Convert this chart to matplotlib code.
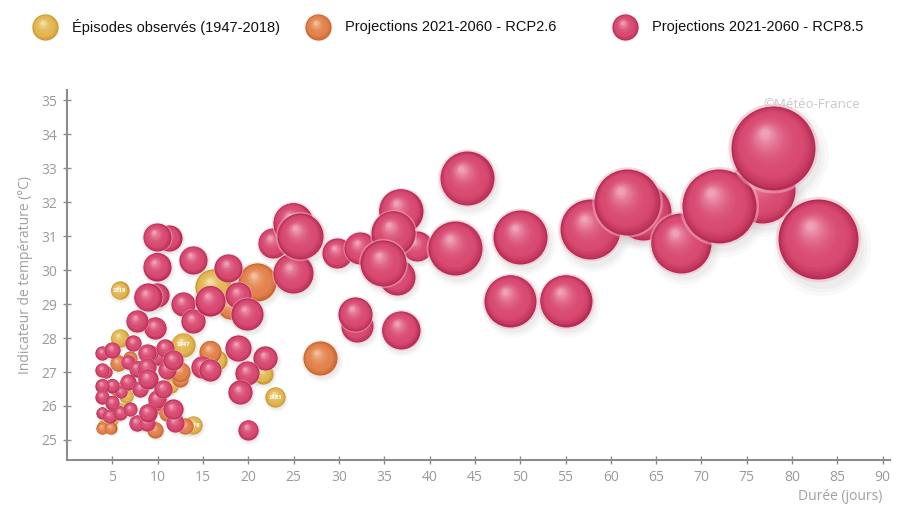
import numpy as np
import matplotlib
matplotlib.use("Agg")
from matplotlib import pyplot as plt
from matplotlib.colors import to_rgb

# --- data: duration (days), temperature indicator (degC), bubble size (severity, px radius)
obs_dur = [5.8, 16.1, 12.8, 23.0, 13.9, 5.8, 4.0, 5.0, 6.5, 11.5, 9.5, 21.6, 16.5, 12.0, 8.0, 6.0, 10.0]
obs_temp = [29.4, 29.5, 27.8, 26.26, 25.44, 28.0, 25.4, 25.6, 26.3, 26.6, 27.5, 26.95, 27.35, 25.6, 25.5, 25.9, 26.0]
obs_size = [9, 18, 12, 10, 9, 9, 6, 6, 7, 7, 7, 10, 10, 7, 6, 6, 7]
obs_label = ["2019", "", "1947", "1983", "1976", "", "", "", "", "", "", "", "", "", "", "", ""]

r26_dur = [21.0, 27.9, 15.8, 12.5, 5.6, 9.7, 13.0, 3.9, 4.8, 11.0, 5.5, 7.0, 18.0, 10.0, 12.5]
r26_temp = [29.65, 27.4, 27.6, 27.0, 27.26, 25.3, 25.4, 25.35, 25.35, 25.8, 26.5, 27.4, 28.9, 27.45, 26.8]
r26_size = [19, 17, 11, 10, 8, 8, 8, 6, 6, 8, 7, 7, 12, 8, 8]

r85_dur = [
    # long events
    76.7, 77.9, 71.9, 82.9, 67.7, 63.6, 61.8, 57.7, 50.0, 55.0, 48.9, 44.1, 42.8,
    38.6, 36.8, 36.0, 36.4, 34.9, 32.3, 29.8, 24.9, 22.7, 24.9, 25.7, 31.8, 32.0, 36.8,
    # medium events
    9.9, 11.2, 9.9, 13.9, 17.8, 15.8, 18.9, 19.9, 8.9, 9.9, 12.8, 13.9, 9.7, 7.7,
    14.9, 15.8, 18.9, 21.9, 19.9, 19.1, 20.0,
    # short events
    3.9, 5.0, 7.3, 3.9, 7.7, 6.7, 8.8, 10.8, 11.7, 11.0, 8.8, 8.9, 6.7, 5.0, 3.9,
    3.9, 5.0, 3.9, 4.7, 5.9, 7.0, 8.1, 9.9, 10.6, 11.7, 11.9, 8.9, 7.7, 8.8, 9.7,
    4.3, 6.0, 10.0, 8.6, 9.2,
]
r85_temp = [
    32.35, 33.6, 31.9, 30.9, 30.8, 31.7, 32.0, 31.2, 30.97, 29.1, 29.1, 32.7, 30.65,
    30.7, 31.75, 31.1, 29.8, 30.2, 30.65, 30.5, 31.4, 30.8, 29.9, 31.0, 28.7, 28.35, 28.24,
    30.97, 30.94, 30.1, 30.3, 30.06, 29.1, 29.26, 28.7, 29.2, 29.26, 29.0, 28.5, 28.3, 28.5,
    27.15, 27.06, 27.7, 27.4, 26.97, 26.4, 25.3,
    27.56, 27.65, 27.85, 27.06, 27.1, 27.3, 27.56, 27.7, 27.35, 27.06, 27.15, 26.8, 26.7, 26.6, 26.6,
    26.27, 26.1, 25.8, 25.7, 25.8, 25.9, 26.5, 26.2, 26.5, 25.9, 25.5, 25.8, 25.5, 25.5, 26.05,
    27.0, 26.4, 27.45, 27.1, 27.56,
]
r85_size = [
    33, 42, 37, 40, 30, 28, 33, 30, 27, 26, 26, 27, 27,
    15, 22, 22, 18, 23, 16, 15, 20, 15, 20, 23, 17, 16, 19,
    14, 13, 14, 14, 14, 15, 13, 16, 14, 12, 12, 12, 11, 11,
    11, 11, 13, 12, 12, 12, 10,
    7, 8, 8, 7, 8, 7, 9, 9, 10, 9, 9, 10, 8, 7, 7,
    7, 7, 6, 7, 7, 7, 8, 9, 9, 10, 9, 9, 8, 8, 7,
    6, 6, 8, 8, 8,
]

series = [
    ("Épisodes observés (1947-2018)", obs_dur, obs_temp, obs_size, ("#c4922c", "#e2b752", "#f6e2a6")),
    ("Projections 2021-2060 - RCP2.6", r26_dur, r26_temp, r26_size, ("#c45f2c", "#e2824c", "#f4bf9c")),
    ("Projections 2021-2060 - RCP8.5", r85_dur, r85_temp, r85_size, ("#b52a52", "#d84a72", "#f0a0b6")),
]

DPI = 100
fig = plt.figure(figsize=(9.04, 5.08), dpi=DPI)
ax = fig.add_axes([67 / 904, 1 - 460 / 508, (890 - 67) / 904, (460 - 90) / 508])
ax.set_xlim(0, 90.8)
ax.set_ylim(24.41, 35.3)

px_x = ax.bbox.width / (90.8 - 0)
px_y = ax.bbox.height / (35.3 - 24.41)


def mix(c1, c2, t):
    a, b = np.array(to_rgb(c1)), np.array(to_rgb(c2))
    return tuple(a + (b - a) * t)


def sphere(axis, x, y, r, cols, z, pxx, pxy, shadow=True):
    dark, mid, light = cols
    d = 2 * r * 72 / DPI
    if shadow:
        for g, a in [(1.22, 0.05), (1.12, 0.06), (1.04, 0.07)]:
            axis.scatter([x + 0.1 * r / pxx], [y - 0.18 * r / pxy], s=(d * g) ** 2,
                         color="#9a9a9a", alpha=a, lw=0, zorder=1)
    axis.scatter([x], [y], s=(d * 1.07) ** 2, color=mix(mid, "white", 0.6), alpha=0.5, lw=0, zorder=z)
    n = 28
    for i in range(n):
        t = i / (n - 1)
        f = 1 - 0.9 * t
        if t < 0.25:
            c = mix(dark, mid, (t / 0.25) ** 0.7)
        else:
            c = mix(mid, light, ((t - 0.25) / 0.75) ** 2.2)
        off = (1 - f) * 0.45 * r
        axis.scatter([x - 0.5 * off / pxx], [y + 0.85 * off / pxy], s=(d * f) ** 2,
                     color=c, lw=0, zorder=z + 0.001 * i)


z = 2
for name, dur, temp, size, cols in series:
    order = np.argsort(size, kind="stable")
    for k in order:
        sphere(ax, dur[k], temp[k], size[k], cols, z, px_x, px_y)
        if name.startswith("Épisodes") and obs_label[k]:
            ax.text(dur[k], temp[k], obs_label[k], fontsize=3.5, color="white",
                    ha="center", va="center", zorder=z + 0.5, fontweight="bold")
        z += 1

for side in ["top", "right"]:
    ax.spines[side].set_visible(False)
for side in ["left", "bottom"]:
    ax.spines[side].set_color("#8c8c8c")
    ax.spines[side].set_linewidth(1.5)
ax.set_xticks(np.arange(5, 91, 5))
ax.set_yticks(np.arange(25, 36, 1))
ax.tick_params(direction="inout", length=6, width=1, color="#8c8c8c",
               labelcolor="#9a9a9a", labelsize=10, pad=4)
for lab in ax.get_xticklabels() + ax.get_yticklabels():
    lab.set_family("Open Sans")
ax.set_ylabel("Indicateur de température (°C)", fontsize=10, color="#a0a0a0",
              family="Open Sans", labelpad=6)
fig.text(882 / 904, 1 - 497 / 508, "Durée (jours)", ha="right", va="center",
         fontsize=10, color="#a0a0a0", family="Open Sans")
ax.text(0.905, 0.962, "©Météo-France", transform=ax.transAxes, ha="center", va="center",
        fontsize=9.5, color="#c8c8c8", family="Open Sans", zorder=0)

# legend strip at top, in pixel coordinates
lax = fig.add_axes([0, 1 - 55 / 508, 1, 55 / 508])
lax.set_xlim(0, 904)
lax.set_ylim(55, 0)
lax.axis("off")
leg_x = [45, 318, 625]
for (name, dur, temp, size, cols), lx in zip(series, leg_x):
    sphere(lax, lx, 27, 13, cols, 5, 1.0, -1.0, shadow=False)
    lax.text(lx + 27, 27, name, ha="left", va="center", fontsize=10.5,
             family="Liberation Sans", color="#111111")

fig.savefig("out.png", dpi=DPI)
